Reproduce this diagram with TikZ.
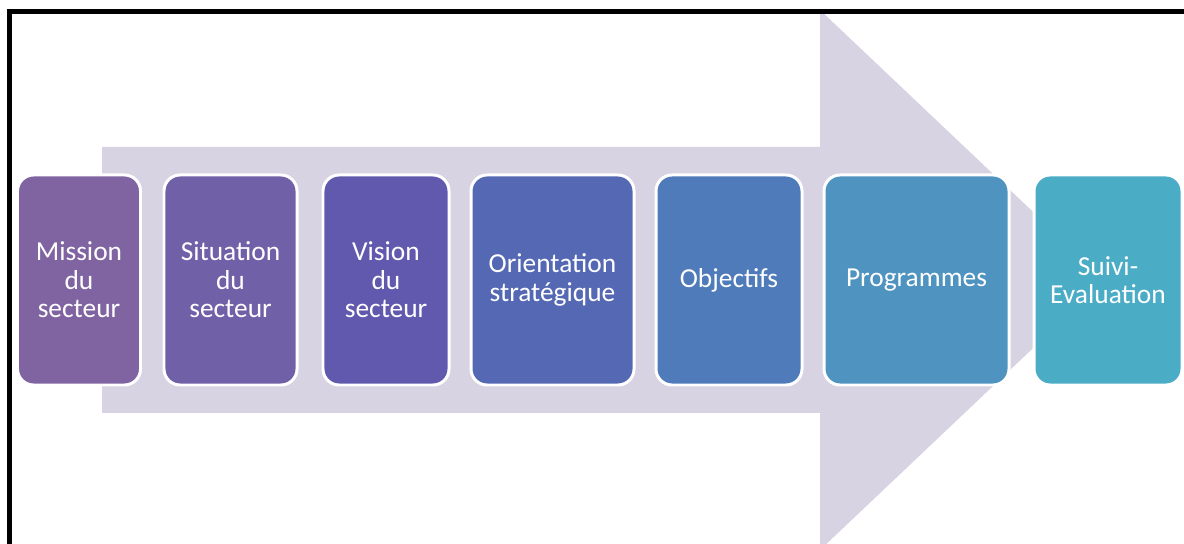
\documentclass[tikz,border=0pt]{standalone}
\usepackage{fontspec}
\setmainfont{Carlito}
\usepackage{tikz}

\definecolor{fleche}{RGB}{215,211,226}
\definecolor{etapeA}{RGB}{128,100,162}
\definecolor{etapeB}{RGB}{112,96,168}
\definecolor{etapeC}{RGB}{97,89,173}
\definecolor{etapeD}{RGB}{85,104,179}
\definecolor{etapeE}{RGB}{79,123,186}
\definecolor{etapeF}{RGB}{79,147,192}
\definecolor{etapeG}{RGB}{75,172,198}

\tikzset{
  etape/.style={draw=white, line width=1.7pt, rounded corners=0.32cm,
    minimum height=4.2cm, inner sep=2pt, text=white, align=center,
    font=\fontsize{15.6}{16.2}\selectfont}
}

\begin{document}
\begin{tikzpicture}[x=0.2mm,y=-0.2mm]
	\useasboundingbox (0,0) rectangle (1184,544);
	
	% grande fleche en fond
	\fill[fleche] (102,147) -- (820,147) -- (820,10) -- (1105,280)
		-- (820,550) -- (820,413) -- (102,413) -- cycle;
	
	% les etapes
	\node[etape, fill=etapeA, minimum width=2.46cm] (mission) at (79,280) {Mission\\du\\secteur};
	\node[etape, fill=etapeB, minimum width=2.66cm] (situation) at (230.5,280) {Situation\\du\\secteur};
	\node[etape, fill=etapeC, minimum width=2.52cm] (vision) at (386,280) {Vision\\du\\secteur};
	\node[etape, fill=etapeD, minimum width=3.26cm] (orientation) at (552.5,280) {Orientation\\strat\'egique};
	\node[etape, fill=etapeE, minimum width=2.92cm] (objectifs) at (729,280) {Objectifs};
	\node[etape, fill=etapeF, minimum width=3.70cm] (programmes) at (916.5,280) {Programmes};
	\node[etape, fill=etapeG, minimum width=2.96cm] (suivi) at (1108,280) {Suivi-\\Evaluation};
	
	% cadre
	\draw[line width=2.3pt] (9.5,560) -- (9.5,11.5) -- (1200,11.5);
\end{tikzpicture}
\end{document}
